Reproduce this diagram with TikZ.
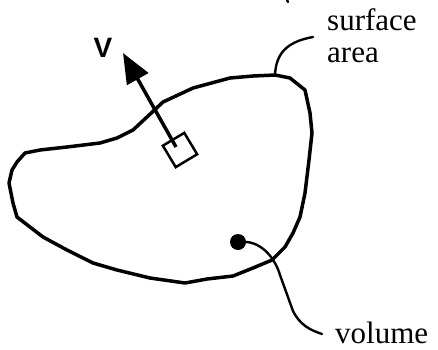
\documentclass[tikz,border=0pt]{standalone}
\usepackage{fontspec}
\setmainfont{Liberation Serif}
\newfontfamily\vfont{Liberation Sans}
\usetikzlibrary{arrows.meta, positioning}
\definecolor{DG}{RGB}{0,0,0}

\begin{document}
\begin{tikzpicture}[
  x=1pt, y=-1pt,
  outline/.style={draw=DG, line width=3.5pt, line join=round},
  leader/.style={draw=DG, line width=2.4pt, line cap=round},
  elem/.style={draw=DG, line width=2.5pt, minimum size=25pt, inner sep=0pt,
               rotate=31},
  dotv/.style={circle, fill=DG, minimum size=16pt, inner sep=0pt},
  lbl/.style={font=\fontsize{31}{32}\selectfont, inner sep=0pt, align=left},
  vlbl/.style={font=\vfont\bfseries\fontsize{28}{30}\selectfont, inner sep=0pt},
  varr/.style={draw=DG, line width=3.5pt,
               -{Triangle[length=30pt, width=24pt]}}
]
\useasboundingbox (0,0) rectangle (438,349);

% Control volume outline
\draw[outline] (275,75) -- (290,78) -- (305,90) -- (310,113) -- (312,133)
  -- (309,160) -- (305,193) -- (300,217) -- (293,233) -- (285,247)
  -- (272,260) -- (253,268) -- (233,276) -- (207,279) -- (185,283)
  -- (150,278) -- (117,270) -- (93,263) -- (67,250) -- (43,237)
  -- (30,227) -- (17,217) -- (13,203) -- (9,183) -- (12,170)
  -- (17,162) -- (25,153) -- (40,150) -- (67,147) -- (100,143)
  -- (117,138) -- (133,130) -- (147,117) -- (163,102) -- (193,88)
  -- (230,78) -- (253,76) -- cycle;
\coordinate (S) at (275,75);

% Surface element and velocity
\node[elem] (dA) at (180,150) {};
\coordinate (Vtip) at (123,53);
\draw[varr] (176,147) -- (Vtip);
\node[vlbl, anchor=base] (V) at (103,57) {V};

% Volume point
\node[dotv] (P) at (238,242) {};

% Labels
\node[lbl, anchor=base west] (SA) at (327,62) {surface\\area};
\node[lbl, anchor=base west] (Vol) at (335,343) {volume};

\draw[leader] (S) .. controls (276,55) and (285,42) .. (313,37);
\draw[leader] (P.east) .. controls (262,243) and (275,258) .. (280,275)
  -- (293,311) .. controls (300,325) and (310,330) .. (322,334);

% cropped mark at top edge
\draw[leader] (287,0) -- (288,2);
\end{tikzpicture}
\end{document}
